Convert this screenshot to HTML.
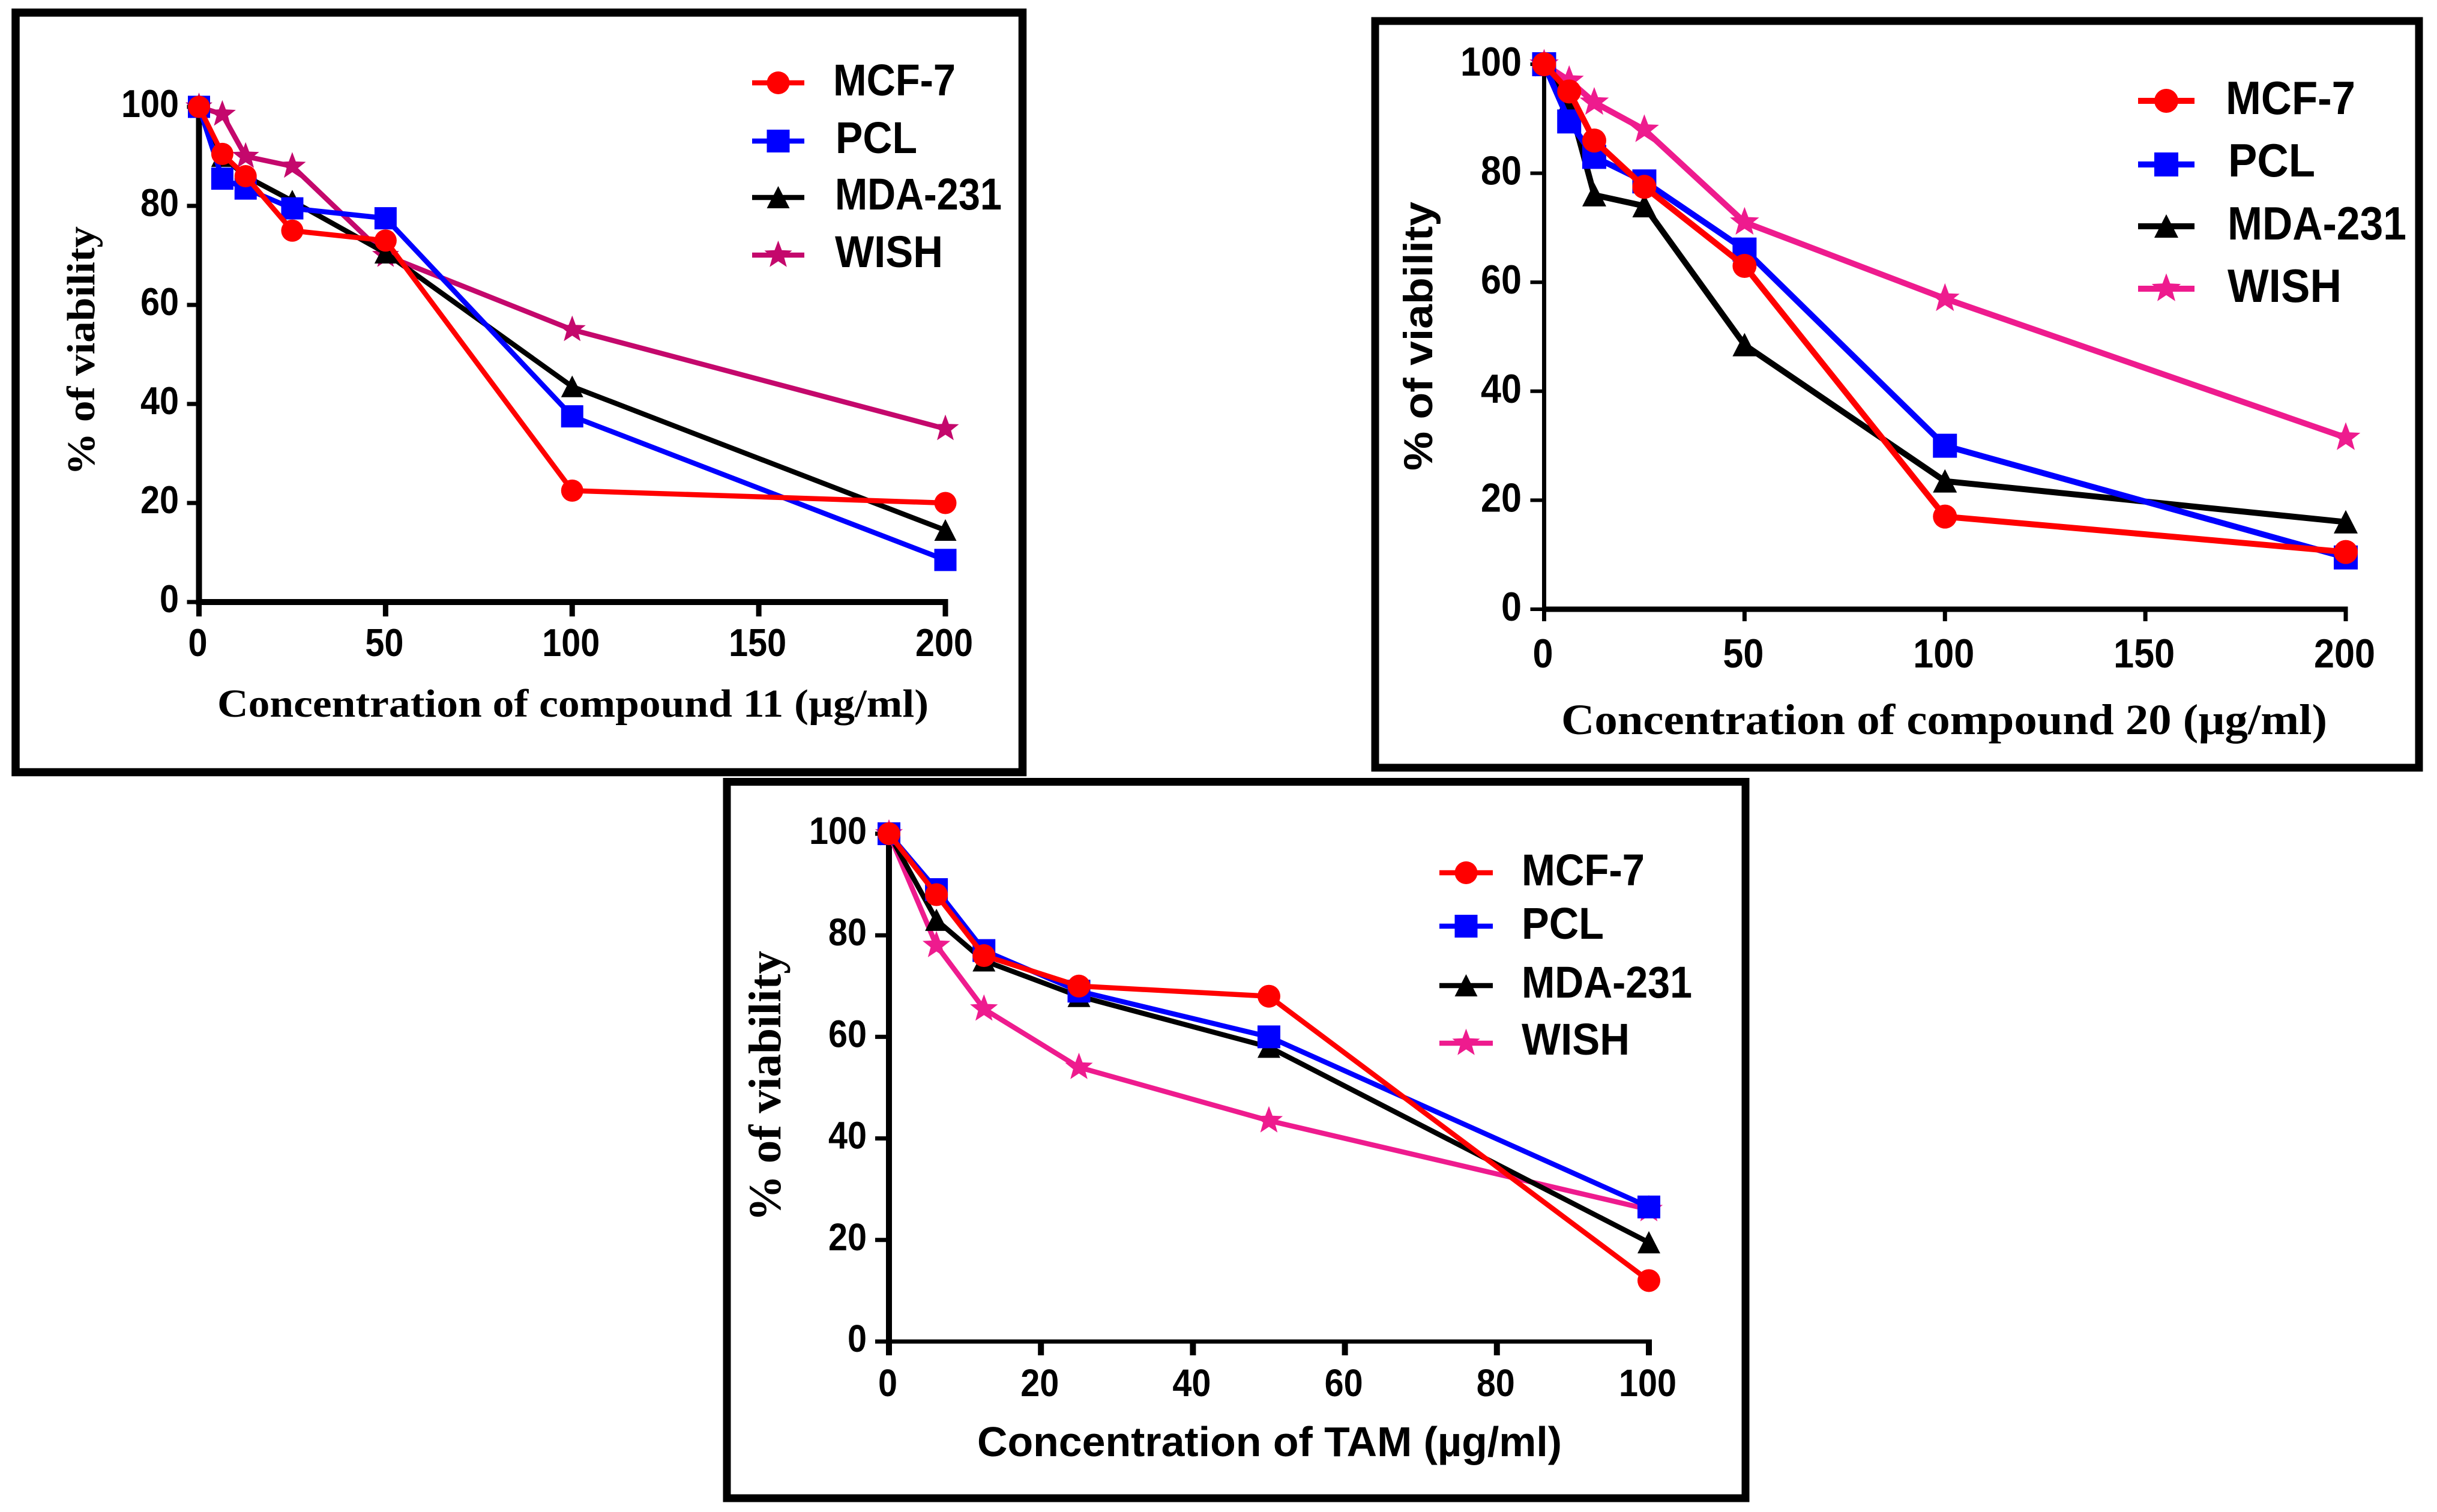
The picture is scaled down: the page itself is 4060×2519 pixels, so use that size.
<!DOCTYPE html>
<html lang="en">
<head>
<meta charset="utf-8">
<title>Cell viability charts</title>
<style>
html,body{margin:0;padding:0;background:#fff;}
svg{display:block;}
.sans{font-family:"Liberation Sans",Arial,sans-serif;font-weight:700;fill:#000;}
.serif{font-family:"Liberation Serif","Times New Roman",serif;font-weight:700;fill:#000;}
</style>
</head>
<body>
<svg id="figure" xmlns="http://www.w3.org/2000/svg" width="4060" height="2519" viewBox="0 0 4060 2519">
  <rect x="0" y="0" width="4060" height="2519" fill="#fff"/>

  <g id="chart1">
    <rect x="26" y="21" width="1677.5" height="1265.5" fill="none" stroke="#000" stroke-width="13.5"/>
    <text class="serif" x="362" y="1194" font-size="66" textLength="1185" lengthAdjust="spacingAndGlyphs">Concentration of compound 11 (µg/ml)</text>
    <text class="serif" transform="translate(157 792) rotate(-90)" font-size="66" textLength="415" lengthAdjust="spacingAndGlyphs">% of viability</text>
    <text class="sans" x="1388" y="159" font-size="74" textLength="204" lengthAdjust="spacingAndGlyphs">MCF-7</text>
    <text class="sans" x="1392" y="255" font-size="74" textLength="136" lengthAdjust="spacingAndGlyphs">PCL</text>
    <text class="sans" x="1391" y="349" font-size="74" textLength="278" lengthAdjust="spacingAndGlyphs">MDA-231</text>
    <text class="sans" x="1391" y="445" font-size="74" textLength="180" lengthAdjust="spacingAndGlyphs">WISH</text>
  </g>

  <g id="chart2">
    <rect x="2291" y="35" width="1739" height="1244" fill="none" stroke="#000" stroke-width="13"/>
    <text class="serif" x="2601" y="1223" font-size="72" textLength="1276" lengthAdjust="spacingAndGlyphs">Concentration of compound 20 (µg/ml)</text>
    <text class="sans" transform="translate(2386 784) rotate(-90)" font-size="68" textLength="448" lengthAdjust="spacingAndGlyphs">% of viability</text>
    <text class="sans" x="3708" y="190" font-size="78" textLength="216" lengthAdjust="spacingAndGlyphs">MCF-7</text>
    <text class="sans" x="3712" y="294" font-size="78" textLength="145" lengthAdjust="spacingAndGlyphs">PCL</text>
    <text class="sans" x="3711" y="399" font-size="78" textLength="298" lengthAdjust="spacingAndGlyphs">MDA-231</text>
    <text class="sans" x="3711" y="503" font-size="78" textLength="190" lengthAdjust="spacingAndGlyphs">WISH</text>
  </g>

  <g id="chart3">
    <rect x="1211" y="1302.5" width="1697" height="1193.5" fill="none" stroke="#000" stroke-width="13"/>
    <text class="sans" x="1628" y="2426" font-size="70" textLength="974" lengthAdjust="spacingAndGlyphs">Concentration of TAM (µg/ml)</text>
    <text class="serif" transform="translate(1300 2035) rotate(-90)" font-size="76" textLength="451" lengthAdjust="spacingAndGlyphs">% of viability</text>
    <text class="sans" x="2535" y="1475" font-size="74" textLength="205" lengthAdjust="spacingAndGlyphs">MCF-7</text>
    <text class="sans" x="2535" y="1564" font-size="74" textLength="137" lengthAdjust="spacingAndGlyphs">PCL</text>
    <text class="sans" x="2535" y="1662" font-size="74" textLength="284" lengthAdjust="spacingAndGlyphs">MDA-231</text>
    <text class="sans" x="2535" y="1757" font-size="74" textLength="180" lengthAdjust="spacingAndGlyphs">WISH</text>
  </g>
</svg>

<script>
// ---- shared tick labels ----
const yTickLabels = [0, 20, 40, 60, 80, 100];

// ---- compound 11 ----
const c1Concentrations = [0, 6.25, 12.5, 25, 50, 100, 200];
const c1XTickLabels = [0, 50, 100, 150, 200];
const c1Mcf7 = [100, 90.5, 86, 75, 73, 22.5, 20];
const c1Pcl = [100, 85.5, 83.5, 79.5, 77.5, 37.5, 8.5];
const c1Mda = [100, 90, 86, 81, 70.5, 43.5, 14.5];
const c1Wish = [100, 98.5, 90, 88, 70, 55, 35];

// ---- compound 20 ----
const c2Concentrations = [0, 6.25, 12.5, 25, 50, 100, 200];
const c2XTickLabels = [0, 50, 100, 150, 200];
const c2Mcf7 = [100, 95, 86, 77.5, 63, 17, 10.5];
const c2Pcl = [100, 89.5, 83, 78.5, 66, 30, 9.5];
const c2Mda = [100, 93, 76, 74, 48.5, 23.5, 16];
const c2Wish = [100, 97, 93, 88, 71, 57, 31.5];

// ---- TAM ----
const c3Concentrations = [0, 6.25, 12.5, 25, 50, 100];
const c3XTickLabels = [0, 20, 40, 60, 80, 100];
const c3Mcf7 = [100, 88, 76, 70, 68, 12];
const c3Pcl = [100, 89, 77, 69, 60, 26.5];
const c3Mda = [100, 83, 75, 68, 58, 19.5];
const c3Wish = [100, 78, 65.5, 54, 43.5, 26];

const NS = 'http://www.w3.org/2000/svg';

function make(tag, attrs, parent) {
  const el = document.createElementNS(NS, tag);
  for (const k in attrs) el.setAttribute(k, attrs[k]);
  parent.appendChild(el);
  return el;
}

function starPoints(cx, cy, R) {
  const pts = [];
  for (let i = 0; i < 10; i++) {
    const r = i % 2 === 0 ? R : R * 0.42;
    const a = -Math.PI / 2 + i * Math.PI / 5;
    pts.push((cx + r * Math.cos(a)).toFixed(1) + ',' + (cy + r * Math.sin(a)).toFixed(1));
  }
  return pts.join(' ');
}

function drawMarker(parent, kind, cx, cy, color, s) {
  let el;
  if (kind === 'circle') {
    el = make('circle', {cx: cx, cy: cy, r: s, fill: color}, parent);
  } else if (kind === 'square') {
    el = make('rect', {x: cx - s, y: cy - s, width: 2 * s, height: 2 * s, fill: color}, parent);
  } else if (kind === 'triangle') {
    el = make('polygon', {points: (cx) + ',' + (cy - s) + ' ' + (cx + s) + ',' + (cy + s * 0.95) + ' ' + (cx - s) + ',' + (cy + s * 0.95), fill: color}, parent);
  } else {
    el = make('polygon', {points: starPoints(cx, cy, s * 1.28), fill: color}, parent);
  }
  
  
  return el;
}

function drawSeries(parent, name, xs, ys, xScale, yScale, color, kind, lineW, size) {
  const g = make('g', {}, parent);
  
  
  const pts = xs.map((x, i) => xScale(x).toFixed(1) + ',' + yScale(ys[i]).toFixed(1)).join(' ');
  const line = make('polyline', {points: pts, fill: 'none', stroke: color, 'stroke-width': lineW, 'stroke-linejoin': 'round'}, g);
  
  
  xs.forEach((x, i) => drawMarker(g, kind, xScale(x), yScale(ys[i]), color, size));
}

function drawAxes(parent, o, xTicks, xScale, yScale) {
  const g = make('g', {}, parent);
  
  
  const yAxis = make('line', {x1: o.x0, x2: o.x0, y1: o.y100 - 3, y2: o.y0 + o.xAxisW / 2, stroke: '#000', 'stroke-width': o.yAxisW}, g);
  
  
  const xAxis = make('line', {x1: o.x0 - o.yAxisW / 2, x2: o.xEnd + o.xTickW / 2, y1: o.y0, y2: o.y0, stroke: '#000', 'stroke-width': o.xAxisW}, g);
  
  

  yTickLabels.forEach(v => {
    const y = yScale(v);
    const t = make('line', {x1: o.x0 - o.yTickLen, x2: o.x0, y1: y, y2: y, stroke: '#000', 'stroke-width': o.tickW}, g);
    
    
    const s = String(v);
    const lbl = make('text', {x: o.yLabelX, y: y + o.labelDy, 'font-size': o.labelSize, 'text-anchor': 'end', textLength: s.length * o.charW, lengthAdjust: 'spacingAndGlyphs', class: 'sans'}, g);
    lbl.textContent = s;
    
    
  });
  xTicks.forEach(v => {
    const x = xScale(v);
    const t = make('line', {x1: x, x2: x, y1: o.y0, y2: o.y0 + o.xTickLen, stroke: '#000', 'stroke-width': o.xTickW}, g);
    
    
    const s = String(v);
    const lbl = make('text', {x: x - 2, y: o.xLabelY, 'font-size': o.labelSize, 'text-anchor': 'middle', textLength: s.length * o.charW, lengthAdjust: 'spacingAndGlyphs', class: 'sans'}, g);
    lbl.textContent = s;
    
    
  });
}

function drawLegendKey(parent, name, kind, color, xa, xb, y, lineW, size) {
  const g = make('g', {}, parent);
  
  
  make('line', {x1: xa, x2: xb, y1: y, y2: y, stroke: color, 'stroke-width': lineW}, g);
  drawMarker(g, kind, (xa + xb) / 2, y, color, size);
}

function drawChart(o, conc, xTicks, xMax, mcf, pcl, mda, wish) {
  const parent = document.getElementById(o.id);
  const xScale = v => o.x0 + (o.xEnd - o.x0) * v / xMax;
  const yScale = v => o.y0 - (o.y0 - o.y100) * v / 100;
  drawAxes(parent, o, xTicks, xScale, yScale);
  drawSeries(parent, 'wish', conc, wish, xScale, yScale, o.wishColor, 'star', o.lineW, o.size);
  drawSeries(parent, 'mda-231', conc, mda, xScale, yScale, '#000000', 'triangle', o.lineW, o.size);
  drawSeries(parent, 'pcl', conc, pcl, xScale, yScale, '#0000ff', 'square', o.lineW, o.size);
  drawSeries(parent, 'mcf-7', conc, mcf, xScale, yScale, '#ff0000', 'circle', o.lineW, o.size);
  drawLegendKey(parent, 'mcf-7', 'circle', '#ff0000', o.keyA, o.keyB, o.key1, o.lineW, o.legendSize);
  drawLegendKey(parent, 'pcl', 'square', '#0000ff', o.keyA, o.keyB, o.key2, o.lineW, o.legendSize);
  drawLegendKey(parent, 'mda-231', 'triangle', '#000000', o.keyA, o.keyB, o.key3, o.lineW, o.legendSize);
  drawLegendKey(parent, 'wish', 'star', o.wishColor, o.keyA, o.keyB, o.key4, o.lineW, o.legendSize);
}

drawChart({id: 'chart1', x0: 331.5, xEnd: 1575, y100: 178, y0: 1003, yAxisW: 10, xAxisW: 10, tickW: 7, xTickW: 9,
  yTickLen: 20, xTickLen: 24, yLabelX: 298, labelDy: 17, xLabelY: 1093, labelSize: 65, charW: 32,
  lineW: 8.5, size: 18.5, legendSize: 19, wishColor: '#c4086c',
  keyA: 1253, keyB: 1340, key1: 138, key2: 235, key3: 329, key4: 425},
  c1Concentrations, c1XTickLabels, 200, c1Mcf7, c1Pcl, c1Mda, c1Wish);

drawChart({id: 'chart2', x0: 2572.5, xEnd: 3908, y100: 107, y0: 1015, yAxisW: 7, xAxisW: 9, tickW: 6, xTickW: 7,
  yTickLen: 23, xTickLen: 20, yLabelX: 2535, labelDy: 19, xLabelY: 1112, labelSize: 68, charW: 34,
  lineW: 10, size: 20, legendSize: 20, wishColor: '#ee1b8e',
  keyA: 3562, keyB: 3656, key1: 168, key2: 274, key3: 377, key4: 481},
  c2Concentrations, c2XTickLabels, 200, c2Mcf7, c2Pcl, c2Mda, c2Wish);

drawChart({id: 'chart3', x0: 1481, xEnd: 2747, y100: 1389, y0: 2235, yAxisW: 10, xAxisW: 7, tickW: 7, xTickW: 10,
  yTickLen: 23, xTickLen: 23, yLabelX: 1444, labelDy: 17, xLabelY: 2326, labelSize: 64, charW: 32,
  lineW: 8.5, size: 19, legendSize: 19, wishColor: '#ee1b8e',
  keyA: 2398, keyB: 2487, key1: 1454, key2: 1543, key3: 1642, key4: 1738},
  c3Concentrations, c3XTickLabels, 100, c3Mcf7, c3Pcl, c3Mda, c3Wish);
</script>
</body>
</html>
